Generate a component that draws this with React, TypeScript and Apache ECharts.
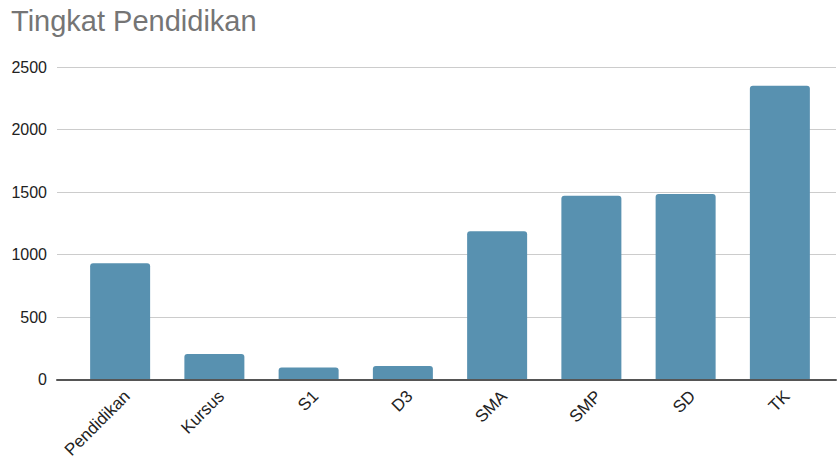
import React, { useEffect, useRef } from "react";
import * as echarts from "echarts";

const categories = ["Pendidikan", "Kursus", "S1", "D3", "SMA", "SMP", "SD", "TK"];
const values = [930, 205, 97, 108, 1186, 1471, 1484, 2351];
const yTicks = [0, 500, 1000, 1500, 2000, 2500];

export default function App() {
  const ref = useRef<HTMLDivElement>(null);
  useEffect(() => {
    if (!ref.current) return;
    const chart = echarts.init(ref.current, null, { renderer: "svg" });
    const font = "Arial, 'Liberation Sans', sans-serif";
    const yMin = yTicks[0];
    const yMax = yTicks[yTicks.length - 1];
    chart.setOption({
      animation: false,
      backgroundColor: "#ffffff",
      title: {
        text: "Tingkat Pendidikan",
        left: 6,
        top: 1,
        textStyle: { fontFamily: font, fontSize: 29, fontWeight: "normal", color: "#757575" },
      },
      grid: [
        { left: 57, right: 2, top: 67, bottom: 82.5 },
        { left: 73, right: 11, top: 67, bottom: 82.5 },
        { left: 80, right: 4, top: 67, bottom: 82.5 },
      ],
      xAxis: [
        {
          gridIndex: 0,
          type: "category",
          data: categories,
          axisLine: { show: true, lineStyle: { color: "#555555", width: 2 } },
          axisTick: { show: false },
          axisLabel: { show: false },
          z: 5,
        },
        {
          gridIndex: 1,
          type: "category",
          data: categories,
          axisLine: { show: false },
          axisTick: { show: false },
          axisLabel: { show: false },
        },
        {
          gridIndex: 2,
          type: "category",
          data: categories,
          axisLine: { show: false },
          axisTick: { show: false },
          axisLabel: {
            rotate: 45,
            fontFamily: font,
            fontSize: 17,
            color: "#222222",
            margin: 14,
            interval: 0,
          },
        },
      ],
      yAxis: [
        {
          gridIndex: 0,
          type: "value",
          min: yMin,
          max: yMax,
          interval: 500,
          axisLine: { show: false },
          axisTick: { show: false },
          axisLabel: {
            fontFamily: font,
            fontSize: 16,
            color: "#222222",
            margin: 10,
            formatter: (v: number) => String(v),
          },
          splitLine: { lineStyle: { color: "#cccccc", width: 1 } },
        },
        {
          gridIndex: 1,
          type: "value",
          min: yMin,
          max: yMax,
          interval: 500,
          show: false,
          splitLine: { show: false },
        },
        {
          gridIndex: 2,
          type: "value",
          min: yMin,
          max: yMax,
          interval: 500,
          show: false,
          splitLine: { show: false },
        },
      ],
      series: [
        {
          type: "bar",
          xAxisIndex: 1,
          yAxisIndex: 1,
          data: values,
          barWidth: 60,
          itemStyle: { color: "#5891b0", borderRadius: [3, 3, 0, 0] },
          z: 2,
        },
      ],
    });
    return () => chart.dispose();
  }, []);
  return <div ref={ref} style={{ width: 838, height: 462, position: "absolute", left: 0, top: 0 }} />;
}
